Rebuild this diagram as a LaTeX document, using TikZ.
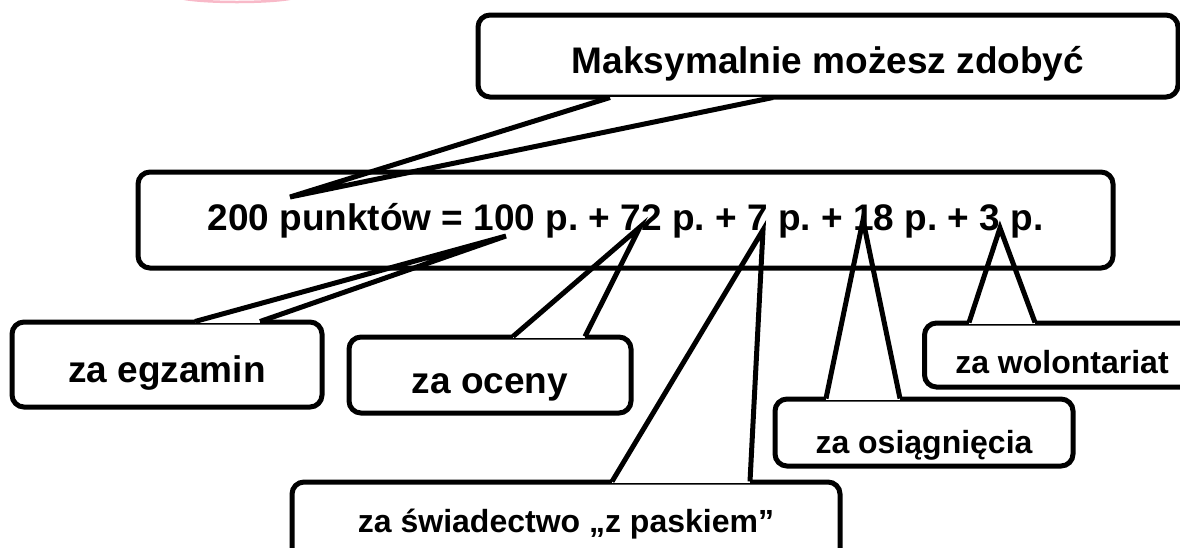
\documentclass[tikz,border=0pt]{standalone}
\usepackage{fontspec}
\setmainfont{Liberation Sans}
\definecolor{blush}{RGB}{248,185,200}

\begin{document}
\begin{tikzpicture}[
  x=1pt, y=-1pt,
  callout/.style={rectangle, draw, line width=5pt, rounded corners=12pt, inner sep=0pt, text depth=0pt},
  big/.style={font=\fontsize{37pt}{44pt}\selectfont\bfseries\frenchspacing},
  small/.style={font=\fontsize{32pt}{38pt}\selectfont\bfseries\frenchspacing},
  gap/.style={fill=white},
  tail/.style={draw, line width=5pt},
]

\useasboundingbox (0,0) rectangle (1180,547);
\clip (0,0) rectangle (1180,547);

\draw[blush, line width=2.5pt] (237,-4) ellipse [x radius=60pt, y radius=6pt];

\node[callout, big, minimum width=975pt, minimum height=96pt, text height=20pt] (sum) at (625.5,220) {200 punktów = 100 p. + 72 p. + 7 p. + 18 p. + 3 p.};

\node[callout, big, minimum width=700pt, minimum height=82pt, text height=34pt] (maks) at (828,56) {Maksymalnie możesz zdobyć};
\node[callout, big, minimum width=310pt, minimum height=85pt, text height=35pt] (egz) at (167,364.5) {za egzamin};
\node[callout, big, minimum width=282pt, minimum height=76pt, text height=36pt] (oceny) at (490,375) {za oceny};
\node[callout, small, minimum width=548pt, minimum height=84pt, text height=16pt] (swiad) at (566,524) {za świadectwo „z paskiem”};
\node[callout, small, minimum width=298pt, minimum height=67pt, text height=41pt] (osiag) at (924,432.5) {za osiągnięcia};
\node[callout, small, minimum width=275pt, minimum height=64pt, text height=36pt] (wolont) at (1062,355) {za wolontariat};

% tips in the sum
\coordinate (tipmaks) at (290,197);
\coordinate (tipegz) at (506,236);
\coordinate (tipoceny) at (640,227);
\coordinate (tipswiad) at (763,230);
\coordinate (tiposiag) at (863,220);
\coordinate (tipwolont) at (1000,228);

% Tails
\fill[gap] ([xshift=-218pt, yshift=-3pt]maks.south) rectangle ([xshift=-55pt, yshift=3pt]maks.south);
\draw[tail] ([xshift=-218pt, yshift=2pt]maks.south) -- (tipmaks) -- ([xshift=-55pt, yshift=2pt]maks.south);

\fill[gap] ([xshift=28pt, yshift=-3pt]egz.north) rectangle ([xshift=93pt, yshift=3pt]egz.north);
\draw[tail] ([xshift=28pt, yshift=-2pt]egz.north) -- (tipegz) -- ([xshift=93pt, yshift=-2pt]egz.north);

\fill[gap] ([xshift=23pt, yshift=-3pt]oceny.north) rectangle ([xshift=95pt, yshift=3pt]oceny.north);
\draw[tail] ([xshift=23pt, yshift=-2pt]oceny.north) -- (tipoceny) -- ([xshift=95pt, yshift=-2pt]oceny.north);

\fill[gap] ([xshift=46pt, yshift=-3pt]swiad.north) rectangle ([xshift=184pt, yshift=3pt]swiad.north);
\draw[tail] ([xshift=46pt, yshift=-2pt]swiad.north) -- (tipswiad) -- ([xshift=184pt, yshift=-2pt]swiad.north);

\fill[gap] ([xshift=-98pt, yshift=-3pt]osiag.north) rectangle ([xshift=-24pt, yshift=3pt]osiag.north);
\draw[tail] ([xshift=-98pt, yshift=-2pt]osiag.north) -- (tiposiag) -- ([xshift=-24pt, yshift=-2pt]osiag.north);

\fill[gap] ([xshift=-93pt, yshift=-3pt]wolont.north) rectangle ([xshift=-27pt, yshift=3pt]wolont.north);
\draw[tail] ([xshift=-93pt, yshift=-2pt]wolont.north) -- (tipwolont) -- ([xshift=-27pt, yshift=-2pt]wolont.north);

\end{tikzpicture}
\end{document}
